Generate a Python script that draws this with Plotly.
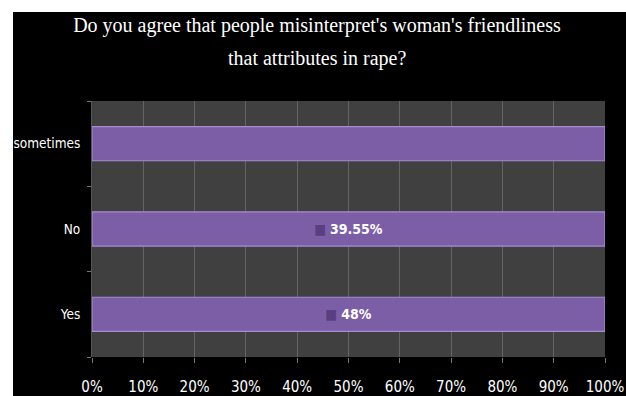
import plotly.graph_objects as go

categories = ["Yes", "No", "sometimes"]
bar_share = [100, 100, 100]
label_values = ["48%", "39.55%", ""]
tick_vals = [0, 10, 20, 30, 40, 50, 60, 70, 80, 90, 100]
tick_text = ["0%", "10%", "20%", "30%", "40%", "50%", "60%", "70%", "80%", "90%", "100%"]
title_line1 = "Do you agree that people misinterpret's woman's friendliness"
title_line2 = "that attributes in rape?"

narrow = "Liberation Sans Narrow, DejaVu Sans Condensed, Arial Narrow, sans-serif"
serif = "Liberation Serif, Times New Roman, serif"

labels = [
    (f"<span style='color:#5a3f80'>■</span> <b>{v}</b>" if v else "") for v in label_values
]

fig = go.Figure()
fig.add_trace(go.Bar(
    y=categories, x=bar_share, orientation="h",
    width=0.4,
    marker=dict(color="#7c5ea6", line=dict(color="#a88bd6", width=1.2)),
    text=labels, textposition="inside", insidetextanchor="middle",
    textfont=dict(color="white", size=14, family=narrow),
    textangle=0, hoverinfo="skip",
))

W, H = 626, 396
L, R, T, B = 92, 21, 101, 39
pw, ph = W - L - R, H - T - B

def px(x):
    return (x - L) / pw

def py(y):
    return (H - B - y) / ph

fig.add_shape(type="rect", xref="paper", yref="paper",
              x0=px(0), x1=px(13), y0=py(H), y1=py(0),
              fillcolor="white", line=dict(width=0), layer="above")
fig.add_shape(type="rect", xref="paper", yref="paper",
              x0=px(0), x1=px(W), y0=py(12), y1=py(0),
              fillcolor="white", line=dict(width=0), layer="above")

fig.add_annotation(text=title_line2, xref="paper", yref="paper",
                   x=px(317), y=py(58), xanchor="center", yanchor="middle",
                   showarrow=False, font=dict(family=serif, size=20, color="white"))

fig.update_layout(
    width=W, height=H,
    margin=dict(l=L, r=R, t=T, b=B, pad=0, autoexpand=False),
    paper_bgcolor="black", plot_bgcolor="#404040",
    showlegend=False,
    title=dict(text=title_line1, x=317 / W, xanchor="center", xref="container",
               y=1 - 25 / H, yanchor="middle", yref="container",
               font=dict(family=serif, size=20, color="white")),
    xaxis=dict(range=[0, 100], tickvals=tick_vals, ticktext=tick_text,
               showgrid=True, gridcolor="#646464", gridwidth=1,
               ticks="outside", ticklen=5, tickcolor="#777777",
               ticklabelstandoff=11, automargin=False,
               tickfont=dict(color="white", size=15, family=narrow),
               zeroline=False, showline=False, fixedrange=True),
    yaxis=dict(categoryorder="array", categoryarray=categories,
               tickson="boundaries", ticks="outside", ticklen=4, tickcolor="#777777",
               showgrid=False, showline=True, linecolor="#555555",
               automargin=False,
               tickfont=dict(color="white", size=13.5, family=narrow),
               ticklabelstandoff=8, fixedrange=True),
)

fig.write_html("out.html")
